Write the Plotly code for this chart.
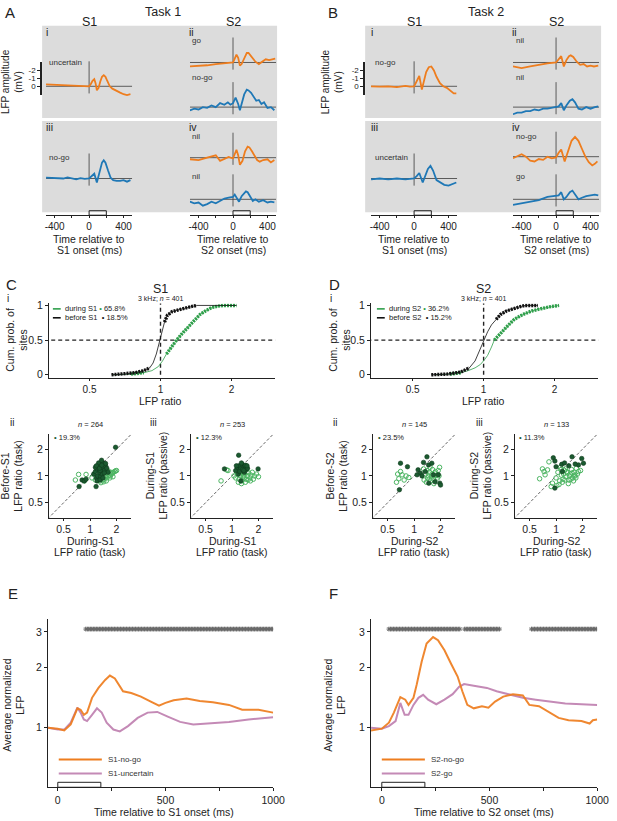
import numpy as np
import plotly.graph_objects as go

W, H = 617, 821
FONT = 'Liberation Sans, Arial, sans-serif'
ORANGE = '#ee7d1e'
BLUE = '#1f78b6'
MAUVE = '#c48ab6'
GREEN = '#2f9f4b'
DARK_GREEN = '#1b5a30'
LIGHT_GREEN = '#4cb562'
INK = '#222222'
GRAY_BG = '#dcdcdc'
MV_PX = 8.0  # pixels per mV in panels A/B

# ---------------- A / B: example LFPs (mV, negative up) ----------------
a1_t = [-500, -400, -300, -200, -100, 0, 20, 40, 60, 75, 90, 110, 130, 150, 170, 190, 210, 240, 270, 300, 330, 360, 400, 440, 480]
a1_mv = [-0.25, -0.2, -0.15, -0.1, -0.05, 0.0, -0.3, -0.7, -0.9, -0.4, 0.5, 0.2, -0.6, -1.2, -1.4, -1.2, -0.7, 0.0, 0.3, 0.5, 0.7, 0.8, 1.0, 1.1, 1.0]

a2go_t = [-500, -400, -300, -200, -100, -50, 0, 20, 40, 60, 80, 100, 130, 160, 180, 200, 230, 260, 300, 340, 380, 420, 460, 490]
a2go_mv = [0.5, 0.45, 0.35, 0.2, 0.1, 0.05, 0.0, -0.5, -1.0, -0.6, 0.4, 0.2, -0.6, -1.2, -1.2, -0.9, -0.4, -0.1, 0.2, -0.1, -0.4, -0.3, -0.4, -0.5]

a2nogo_t = [-500, -450, -400, -350, -300, -250, -200, -150, -100, -60, -30, 0, 30, 60, 80, 100, 130, 160, 180, 210, 240, 270, 300, 330, 360, 400, 440, 480]
a2nogo_mv = [0.4, 0.2, 0.3, 0.0, 0.1, -0.2, 0.0, -0.5, -0.3, -0.6, -0.3, -0.5, -1.2, -0.4, 0.4, -0.3, -1.6, -2.2, -2.1, -1.8, -1.2, -0.8, -0.9, -0.4, -0.6, 0.1, 0.0, 0.4]

a3_t = [-500, -400, -300, -250, -200, -150, -100, -50, 0, 30, 60, 90, 120, 150, 170, 190, 220, 250, 280, 320, 360, 400, 440, 480]
a3_mv = [-0.1, -0.05, 0.0, -0.15, 0.0, 0.1, -0.05, 0.05, 0.0, -0.3, -0.6, 0.5, -0.8, -2.0, -2.3, -2.0, -1.0, -0.1, 0.2, 0.3, 0.3, 0.2, 0.4, 0.2]

a4top_t = [-500, -400, -300, -250, -200, -150, -100, -50, 0, 20, 40, 60, 80, 110, 140, 170, 190, 220, 250, 280, 310, 350, 400, 440, 480]
a4top_mv = [0.2, 0.3, 0.0, -0.2, -0.3, 0.4, 0.2, -0.1, 0.1, -0.5, -1.0, -0.3, 0.9, 0.4, -0.8, -1.4, -1.3, -0.8, -0.2, 0.3, 0.5, 0.3, 0.2, 0.6, 0.3]

a4bot_t = [-500, -450, -400, -350, -300, -250, -200, -150, -100, -50, 0, 20, 40, 70, 100, 130, 150, 170, 200, 230, 260, 300, 350, 400, 440, 480]
a4bot_mv = [0.3, 0.5, 0.4, 0.8, 0.6, 0.3, 0.5, 0.2, -0.1, -0.2, -0.3, -0.6, -0.3, 0.3, -0.4, -0.8, -1.0, -0.9, -0.3, 0.2, 0.0, 0.3, 0.1, 0.4, 0.3, 0.4]

b1_t = [-500, -400, -300, -200, -100, -50, 0, 30, 60, 90, 110, 140, 170, 200, 230, 260, 300, 340, 380, 420, 460, 490]
b1_mv = [0.0, 0.05, 0.0, 0.1, -0.05, 0.05, 0.0, -0.6, -1.3, 0.4, -0.5, -1.8, -2.4, -2.5, -2.0, -1.2, -0.4, 0.0, 0.2, 0.6, 0.9, 0.9]

b2top_t = [-500, -450, -400, -300, -200, -100, 0, 30, 60, 90, 120, 150, 170, 200, 240, 280, 320, 360, 400, 440, 490]
b2top_mv = [0.5, 0.6, 0.7, 0.5, 0.3, 0.1, 0.0, -0.4, -0.8, 0.5, -0.3, -0.8, -0.9, -0.7, -0.1, 0.3, 0.2, 0.5, 0.4, 0.5, 0.4]

b2bot_t = [-500, -450, -400, -350, -300, -250, -200, -150, -100, -50, 0, 30, 60, 90, 120, 160, 190, 220, 260, 300, 350, 400, 450, 490]
b2bot_mv = [0.9, 0.7, 0.7, 0.5, 0.5, 0.3, 0.4, 0.2, 0.2, 0.1, 0.0, -0.1, -0.5, 0.4, -0.2, -0.8, -1.0, -0.6, 0.2, 0.3, 0.0, 0.2, 0.0, -0.1]

b3_t = [-500, -400, -300, -200, -100, 0, 30, 60, 100, 130, 160, 190, 220, 260, 300, 350, 400, 450, 490]
b3_mv = [0.1, 0.0, 0.1, 0.0, 0.1, 0.0, -0.3, -0.7, 0.5, -0.3, -1.2, -1.6, -1.0, 0.2, 0.5, 0.8, 0.9, 0.7, 0.5]

b4top_t = [-500, -450, -400, -350, -300, -250, -200, -150, -100, -50, 0, 30, 60, 100, 140, 180, 220, 260, 300, 340, 380, 420, 450, 480]
b4top_mv = [0.2, -0.1, -0.3, 0.0, 0.5, 0.6, 0.3, 0.4, 0.0, 0.2, 0.1, -0.5, -0.9, 0.6, -0.8, -2.0, -2.5, -2.0, -1.0, 0.0, 0.7, 1.1, 0.9, 0.6]

b4bot_t = [-500, -400, -300, -200, -100, 0, 30, 60, 90, 120, 160, 190, 220, 260, 300, 350, 400, 450, 490]
b4bot_mv = [0.7, 0.5, 0.3, 0.1, -0.3, -0.4, -0.5, -0.9, 0.0, -0.3, -0.9, -1.1, -0.6, 0.0, -0.2, -0.4, -0.5, -0.6, -0.5]

# ---------------- C / D: cumulative distributions ----------------
c_before_x = [0.62, 0.70, 0.78, 0.85, 0.90, 0.93, 0.96, 0.98, 1.00, 1.02, 1.04, 1.07, 1.12, 1.20, 1.30, 1.42, 2.10]
c_before_p = [0.00, 0.01, 0.03, 0.06, 0.10, 0.17, 0.30, 0.42, 0.50, 0.65, 0.76, 0.86, 0.91, 0.94, 0.97, 1.00, 1.00]
c_before_sig = [(0, 5), (10, 16)]
c_during_x = [0.63, 0.75, 0.85, 0.92, 0.98, 1.02, 1.06, 1.11, 1.17, 1.24, 1.32, 1.40, 1.47, 1.55, 1.65, 1.75, 1.85, 2.10]
c_during_p = [0.00, 0.01, 0.03, 0.06, 0.12, 0.20, 0.30, 0.40, 0.50, 0.60, 0.70, 0.80, 0.87, 0.92, 0.97, 0.99, 1.00, 1.00]
c_during_sig = [(1, 3), (6, 18)]

d_before_x = [0.60, 0.70, 0.80, 0.87, 0.92, 0.96, 1.00, 1.04, 1.08, 1.13, 1.18, 1.25, 1.32, 1.42, 1.50, 1.70]
d_before_p = [0.00, 0.01, 0.04, 0.10, 0.20, 0.35, 0.50, 0.62, 0.72, 0.80, 0.87, 0.92, 0.95, 0.98, 1.00, 1.00]
d_before_sig = [(0, 4), (9, 16)]
d_during_x = [0.62, 0.72, 0.80, 0.86, 0.92, 0.97, 1.01, 1.04, 1.08, 1.11, 1.18, 1.26, 1.35, 1.47, 1.60, 1.72, 1.90, 2.09]
d_during_p = [0.00, 0.01, 0.03, 0.06, 0.10, 0.15, 0.22, 0.28, 0.40, 0.50, 0.60, 0.70, 0.80, 0.87, 0.92, 0.95, 0.98, 1.00]
d_during_sig = [(1, 3), (9, 18)]

# ---------------- C / D: per-site scatter ----------------
cii_sig_x = [0.75, 0.81, 0.86, 0.90, 1.10, 1.15, 1.18, 1.20, 1.22, 1.25, 1.28, 1.30, 1.32, 1.35, 1.38, 1.40, 1.42, 1.45, 1.50, 1.55, 1.60, 1.20, 1.30, 1.25, 1.35, 1.40, 1.15, 1.45, 1.30, 1.50, 1.18, 1.17, 1.28, 1.36, 1.95]
cii_sig_y = [0.76, 0.90, 0.88, 0.92, 1.05, 1.12, 0.95, 1.20, 1.00, 1.28, 1.10, 1.35, 0.98, 1.18, 1.05, 1.25, 1.40, 1.15, 1.30, 1.22, 1.10, 0.88, 0.90, 1.40, 1.50, 0.95, 1.25, 1.08, 1.15, 1.38, 1.30, 0.76, 1.22, 1.32, 2.10]
cii_ns_x = [0.68, 0.74, 0.86, 0.90, 1.05, 1.15, 1.20, 1.25, 1.30, 1.35, 1.40, 1.45, 1.50, 1.55, 1.60, 1.65, 1.70, 1.75, 1.80, 1.85, 1.90, 1.95, 2.00, 1.28, 1.38, 1.48, 1.58, 1.68, 1.33, 1.43, 1.53, 1.63, 1.22, 1.72, 1.82]
cii_ns_y = [0.90, 1.04, 0.88, 1.04, 0.95, 0.90, 0.97, 0.92, 0.88, 0.95, 0.90, 0.92, 0.97, 0.95, 1.00, 1.02, 1.00, 1.05, 1.08, 1.10, 1.12, 1.14, 1.15, 1.02, 1.05, 1.00, 1.08, 0.95, 0.84, 0.86, 0.88, 1.12, 1.08, 1.10, 0.98]

ciii_sig_x = [0.82, 1.19, 1.98, 1.10, 1.15, 1.20, 1.25, 1.30, 1.35, 1.40, 1.45, 1.50, 1.18, 1.28, 1.38, 1.22, 1.32, 1.42, 1.12, 1.48, 1.26, 1.36]
ciii_sig_y = [1.20, 1.71, 1.20, 1.15, 1.25, 1.30, 1.20, 1.35, 1.25, 1.28, 1.18, 1.22, 1.05, 1.40, 1.10, 1.12, 1.18, 1.32, 1.30, 1.30, 0.88, 1.15]
ciii_ns_x = [0.75, 0.87, 0.90, 1.05, 1.10, 1.15, 1.20, 1.25, 1.30, 1.35, 1.40, 1.45, 1.50, 1.55, 1.60, 1.65, 1.70, 1.80, 1.90, 2.00, 1.12, 1.22, 1.32, 1.42, 1.52, 1.62, 1.18, 1.28, 1.38, 1.48, 1.75, 1.25, 1.35]
ciii_ns_y = [0.88, 1.17, 1.15, 1.00, 0.95, 1.05, 0.92, 1.00, 0.88, 0.98, 1.05, 0.92, 1.00, 1.08, 0.95, 1.02, 1.10, 1.00, 1.05, 0.98, 1.12, 1.10, 1.12, 0.85, 0.90, 0.88, 0.85, 0.82, 0.95, 1.10, 0.92, 1.06, 1.02]

dii_sig_x = [0.70, 0.84, 0.68, 1.11, 1.18, 1.28, 1.40, 1.46, 1.59, 1.66, 1.73, 1.47, 1.89, 1.96, 2.00, 1.08, 1.34, 1.23]
dii_sig_y = [1.39, 1.27, 0.70, 1.17, 1.07, 1.42, 1.64, 1.33, 1.39, 1.03, 0.86, 0.83, 1.03, 0.83, 0.79, 1.03, 1.12, 1.00]
dii_ns_x = [0.63, 0.67, 0.73, 0.77, 0.70, 0.81, 0.87, 0.65, 1.28, 1.35, 1.42, 1.50, 1.58, 1.65, 1.72, 1.80, 1.88, 1.95, 1.30, 1.40, 1.55, 1.62, 1.70, 1.85, 1.45, 1.52, 1.75, 1.38, 1.60, 1.68, 1.92, 1.48]
dii_ns_y = [0.85, 0.93, 1.03, 0.90, 1.12, 1.00, 0.96, 1.05, 1.20, 1.05, 0.95, 1.10, 1.00, 0.92, 1.08, 1.02, 1.15, 1.25, 0.90, 1.15, 0.88, 1.18, 0.98, 0.95, 1.00, 1.25, 1.12, 0.85, 1.05, 0.82, 1.00, 0.92]

diii_sig_x = [0.93, 0.97, 1.52, 1.16, 1.96, 1.80, 2.05, 1.00, 1.18, 0.97, 1.25, 1.40, 1.65]
diii_sig_y = [1.60, 1.47, 1.64, 1.35, 1.57, 1.33, 1.39, 1.27, 1.12, 0.73, 1.40, 1.30, 1.36]
diii_ns_x = [0.65, 0.73, 0.75, 0.83, 0.80, 0.70, 0.91, 0.88, 1.00, 1.05, 1.10, 1.15, 1.20, 1.25, 1.30, 1.35, 1.40, 1.45, 1.50, 1.55, 1.60, 1.65, 1.70, 1.75, 1.80, 1.90, 1.08, 1.18, 1.28, 1.38, 1.48, 1.58, 1.68, 1.12, 1.22, 1.32, 1.42, 1.52, 1.62, 1.02, 1.14, 1.26]
diii_ns_y = [0.93, 1.12, 1.03, 1.44, 1.17, 1.20, 0.83, 0.76, 0.95, 1.10, 0.88, 1.02, 0.92, 1.15, 0.98, 1.08, 0.90, 1.05, 1.18, 0.95, 1.10, 1.00, 1.22, 1.05, 1.12, 1.15, 0.80, 0.85, 1.20, 0.82, 0.92, 0.88, 0.95, 1.25, 1.05, 1.12, 1.00, 1.08, 1.02, 0.78, 1.18, 0.90]

# ---------------- E / F: population averages ----------------
e_t_nogo = [-45, 0, 30, 60, 91, 106, 121, 136, 159, 189, 220, 242, 265, 303, 341, 386, 432, 470, 500, 538, 598, 659, 720, 795, 856, 932, 1000]
e_nogo = [1.00, 0.99, 0.97, 1.04, 1.25, 1.23, 1.16, 1.19, 1.41, 1.58, 1.73, 1.82, 1.76, 1.52, 1.49, 1.43, 1.35, 1.29, 1.33, 1.37, 1.40, 1.36, 1.34, 1.30, 1.23, 1.23, 1.19]
e_t_unc = [-45, 0, 30, 60, 91, 106, 121, 136, 159, 182, 204, 227, 258, 288, 326, 371, 417, 462, 508, 568, 629, 705, 795, 886, 1000]
e_unc = [1.00, 0.98, 0.98, 1.06, 1.26, 1.19, 1.10, 1.08, 1.16, 1.25, 1.19, 1.06, 0.98, 0.96, 1.02, 1.12, 1.19, 1.20, 1.14, 1.07, 1.04, 1.05, 1.07, 1.10, 1.13]
e_sig_windows = [(130, 1000)]

f_t_nogo = [-50, 0, 33, 56, 86, 109, 124, 147, 162, 185, 208, 238, 261, 291, 321, 352, 374, 397, 427, 465, 495, 526, 564, 609, 655, 685, 730, 776, 821, 867, 927, 965, 980, 1000]
f_nogo = [0.97, 0.99, 1.06, 1.19, 1.42, 1.38, 1.30, 1.41, 1.64, 2.13, 2.63, 2.83, 2.73, 2.43, 2.09, 1.80, 1.52, 1.30, 1.25, 1.28, 1.26, 1.35, 1.43, 1.47, 1.45, 1.30, 1.28, 1.20, 1.12, 1.09, 1.08, 1.05, 1.09, 1.10]
f_t_go = [-50, 0, 33, 64, 86, 106, 124, 147, 170, 192, 215, 253, 291, 329, 359, 382, 427, 488, 533, 594, 655, 715, 776, 852, 927, 1000]
f_go = [1.00, 0.99, 1.02, 1.08, 1.33, 1.16, 1.16, 1.30, 1.41, 1.46, 1.38, 1.31, 1.38, 1.47, 1.60, 1.65, 1.62, 1.58, 1.52, 1.46, 1.41, 1.38, 1.35, 1.32, 1.31, 1.30]
f_sig_windows = [(33, 367), (385, 552), (695, 1000)]
STAR_BIN = 7  # ms between significance markers


def fx(x):
    return x / W


def fy(y):
    return 1 - y / H


layout = dict(width=W, height=H, autosize=False, margin=dict(l=0, r=0, t=0, b=0),
              paper_bgcolor='white', plot_bgcolor='rgba(0,0,0,0)', showlegend=False,
              font=dict(family=FONT, size=10, color=INK))
shapes = []
annotations = []
traces = []
counter = [0]

SHOWN = dict(visible=True, showline=True, linecolor=INK, linewidth=1, ticks='outside',
             ticklen=3, tickwidth=1, tickcolor=INK, showticklabels=True,
             tickfont=dict(size=10.5, color=INK))


def new_axes(xdom, ydom, xrange, yrange, xtype='linear', ytype='linear', xstyle=None, ystyle=None):
    counter[0] += 1
    n = counter[0]
    sid = '' if n == 1 else str(n)
    xa = dict(domain=[fx(xdom[0]), fx(xdom[1])], range=xrange, type=xtype, anchor='y' + sid,
              showgrid=False, zeroline=False, visible=False, fixedrange=True)
    ya = dict(domain=[fy(ydom[1]), fy(ydom[0])], range=yrange, type=ytype, anchor='x' + sid,
              showgrid=False, zeroline=False, visible=False, fixedrange=True)
    if xstyle:
        xa.update(SHOWN)
        xa.update(xstyle)
    if ystyle:
        ya.update(SHOWN)
        ya.update(ystyle)
    layout['xaxis' + sid] = xa
    layout['yaxis' + sid] = ya
    traces.append(go.Scatter(x=[None], y=[None], xaxis='x' + sid, yaxis='y' + sid, hoverinfo='skip'))
    return 'x' + sid, 'y' + sid


def text(x, y, s, size=10.5, xanchor='center', angle=0, color=INK):
    annotations.append(dict(x=fx(x), y=fy(y), xref='paper', yref='paper', text=s, showarrow=False,
                            font=dict(size=size, color=color), xanchor=xanchor, yanchor='middle',
                            textangle=angle))


def key(x0, x1, y, color, width):
    shapes.append(dict(type='line', xref='paper', yref='paper', x0=fx(x0), x1=fx(x1),
                       y0=fy(y), y1=fy(y), line=dict(color=color, width=width)))


# ---------------- panels A and B ----------------
ROW1, ROW2 = (22, 115), (118, 210)
for x0, x1 in [(42, 282), (372, 613)]:
    for r in (ROW1, ROW2):
        shapes.append(dict(type='rect', xref='paper', yref='paper', x0=fx(x0), x1=fx(x1),
                           y0=fy(r[1]), y1=fy(r[0]), fillcolor=GRAY_BG, line=dict(width=0), layer='below'))

A_S1, A_S2, B_S1, B_S2 = (46, 134), (193, 281), (378, 466), (523, 611)

lfp_panels = [
    (a1_t, a1_mv, ORANGE, A_S1, ROW1, 83),
    (a2go_t, a2go_mv, ORANGE, A_S2, (22, 76), 59),
    (a2nogo_t, a2nogo_mv, BLUE, A_S2, (76, 115), 104),
    (a3_t, a3_mv, BLUE, A_S1, ROW2, 176),
    (a4top_t, a4top_mv, ORANGE, A_S2, (118, 166), 155),
    (a4bot_t, a4bot_mv, BLUE, A_S2, (166, 210), 197),
    (b1_t, b1_mv, ORANGE, B_S1, ROW1, 83),
    (b2top_t, b2top_mv, ORANGE, B_S2, (22, 76), 59),
    (b2bot_t, b2bot_mv, BLUE, B_S2, (76, 115), 104),
    (b3_t, b3_mv, BLUE, B_S1, ROW2, 176),
    (b4top_t, b4top_mv, ORANGE, B_S2, (118, 166), 154),
    (b4bot_t, b4bot_mv, BLUE, B_S2, (166, 210), 197),
]
for t, mv, color, xdom, ydom, base in lfp_panels:
    yr = [(ydom[1] - base) / MV_PX, (ydom[0] - base) / MV_PX]
    xa, ya = new_axes(xdom, ydom, [-500, 500], yr)
    shapes.append(dict(type='line', xref=xa, yref=ya, x0=-500, x1=500, y0=0, y1=0,
                       line=dict(color='#3a3a3a', width=0.8), layer='below'))
    shapes.append(dict(type='line', xref=xa, yref=ya, x0=0, x1=0, y0=-3.15, y1=0.9,
                       line=dict(color='#3a3a3a', width=0.8), layer='below'))
    traces.append(go.Scatter(x=t, y=mv, xaxis=xa, yaxis=ya, mode='lines',
                             line=dict(color=color, width=1.8), hoverinfo='skip'))

# time axes under the columns
for xdom in (A_S1, A_S2, B_S1, B_S2):
    xa, ya = new_axes(xdom, (200, 213), [-500, 500], [0, 1],
                      xstyle=dict(tickvals=[-400, -200, 0, 200, 400], ticklen=2,
                                  ticktext=['-400', '', '0', '', '400'], tickfont=dict(size=10, color=INK)))
    shapes.append(dict(type='rect', xref=xa, yref='paper', x0=0, x1=200, y0=fy(213), y1=fy(208.5),
                       line=dict(color=INK, width=1), fillcolor='rgba(0,0,0,0)'))

# mV scale bars
for xb in (41.5, 371.5):
    new_axes((xb, xb + 3), (58, 92), [0, 1], [(92 - 83) / MV_PX, (58 - 83) / MV_PX],
             ystyle=dict(tickvals=[-2, -1, 0], ticktext=['-2', '-1', '0'], linewidth=1.3,
                         tickfont=dict(size=8, color=INK)))

for dx, task, labels in [(0, 'Task 1', ['uncertain', 'go', 'no-go', 'no-go', 'nil', 'nil']),
                         (330, 'Task 2', ['no-go', 'nil', 'nil', 'uncertain', 'no-go', 'go'])]:
    sh = 2 if dx else 0
    text(2 + dx, 9, 'AB'[dx > 0], size=15, xanchor='left')
    text(165 + dx, 8, task, size=12.5)
    text(90 + dx + sh, 18, 'S1', size=12.5)
    text(237 + dx, 18, 'S2', size=12.5)
    text(44 + dx + sh, 28, 'i', xanchor='left')
    text(190 + dx, 28, 'ii', xanchor='left')
    text(44 + dx + sh, 124, 'iii', xanchor='left')
    text(190 + dx, 124, 'iv', xanchor='left')
    lx1 = 47 + dx + (3 if dx else 0)
    lx2 = 193 + dx + (1 if dx else 0)
    for (lx, ly), lab in zip([(lx1, 59), (lx2, 37), (lx2, 74), (lx1, 155), (lx2, 134), (lx2, 174)], labels):
        text(lx, ly, lab, size=8, xanchor='left', color='#333')
    text(12 + dx - (4 if dx else 0), 78, 'LFP amplitude<br>(mV)', size=10, angle=-90)
    for cx, s in [(90 + dx + sh, 'S1'), (237 + dx, 'S2')]:
        text(cx, 237, 'Time relative to')
        text(cx, 248, '%s onset (ms)' % s)

# ---------------- panels C and D ----------------
LOG_TICKS = dict(tickvals=[0.5, 1, 2], ticktext=['0.5', '1', '2'])


def cdf_panel(xdom, xr, bx, bp, bsig, dxs, dps, dsig):
    xa, ya = new_axes(xdom, (302, 377), xr, [-0.043, 1.029], xtype='log',
                      xstyle=dict(LOG_TICKS, ticklen=2, tickfont=dict(size=10, color=INK)),
                      ystyle=dict(tickvals=[0, 0.5, 1], ticktext=['0', '0.5', '1']))
    dash = dict(color=INK, width=1.4, dash='4px,3px')
    traces.append(go.Scatter(x=[0.3, 3.2], y=[0.5, 0.5], xaxis=xa, yaxis=ya, mode='lines', line=dash, hoverinfo='skip'))
    traces.append(go.Scatter(x=[1, 1], y=[0, 1.06], xaxis=xa, yaxis=ya, mode='lines', line=dash, hoverinfo='skip'))
    for xs, ps, sig, col in [(dxs, dps, dsig, GREEN), (bx, bp, bsig, '#111111')]:
        traces.append(go.Scatter(x=xs, y=ps, xaxis=xa, yaxis=ya, mode='lines',
                                 line=dict(color=col, width=0.8), hoverinfo='skip'))
        for i0, i1 in sig:
            traces.append(go.Scatter(x=xs[i0:i1], y=ps[i0:i1], xaxis=xa, yaxis=ya, mode='lines',
                                     line=dict(color=col, width=3.4, dash='2px,1px'), hoverinfo='skip'))


def scatter_panel(xdom, sx, sy, nx, ny):
    r = [-0.468, 0.468]
    xa, ya = new_axes(xdom, (434, 518), r, r, xtype='log', ytype='log',
                      xstyle=dict(LOG_TICKS, ticklen=2), ystyle=LOG_TICKS)
    traces.append(go.Scatter(x=[0.3, 3.0], y=[0.3, 3.0], xaxis=xa, yaxis=ya, mode='lines',
                             line=dict(color='#555', width=0.9, dash='3px,2px'), hoverinfo='skip'))
    traces.append(go.Scatter(x=nx, y=ny, xaxis=xa, yaxis=ya, mode='markers', hoverinfo='skip',
                             marker=dict(symbol='circle-open', size=4.5, color=LIGHT_GREEN,
                                         line=dict(width=1, color=LIGHT_GREEN))))
    traces.append(go.Scatter(x=sx, y=sy, xaxis=xa, yaxis=ya, mode='markers', hoverinfo='skip',
                             marker=dict(symbol='circle', size=4.5, color=DARK_GREEN,
                                         line=dict(width=0.6, color='#0f3a1d'))))


cdf_panel((49, 280), [-0.473, 0.486], c_before_x, c_before_p, c_before_sig,
          c_during_x, c_during_p, c_during_sig)
cdf_panel((378, 610), [-0.4776, 0.4859], d_before_x, d_before_p, d_before_sig,
          d_during_x, d_during_p, d_during_sig)
scatter_panel((49, 133), cii_sig_x, cii_sig_y, cii_ns_x, cii_ns_y)
scatter_panel((194, 278), ciii_sig_x, ciii_sig_y, ciii_ns_x, ciii_ns_y)
scatter_panel((380, 464), dii_sig_x, dii_sig_y, dii_ns_x, dii_ns_y)
scatter_panel((525, 609), diii_sig_x, diii_sig_y, diii_ns_x, diii_ns_y)


def dot(c):
    return "<span style='color:%s'>\u2022</span>" % c


for dx, s, pct_d, pct_b, n2, n3, p2, p3, c1, c2 in [
        (0, 'S1', '65.8%', '18.5%', '264', '253', '19.3%', '12.3%', 163, 91),
        (330, 'S2', '36.2%', '15.2%', '145', '133', '23.5%', '11.3%', 493, 422)]:
    sh = 1 if dx else 0
    text(3 + dx, 283, 'CD'[dx > 0], size=15, xanchor='left')
    text(7 + dx, 297, 'i', size=10)
    text(c1, 287, s, size=12.5)
    text(c1, 297, '3 kHz; <i>n</i> = 401', size=7)
    lx = 53 + dx + sh
    key(lx, lx + 8, 307.5, GREEN, 1.6)
    key(lx, lx + 8, 316.5, '#111', 1.6)
    text(lx + 10, 307.5, 'during %s ' % s + dot(GREEN) + ' ' + pct_d, size=7.5, xanchor='left')
    text(lx + 10, 316.5, 'before %s  ' % s + dot('#111') + ' ' + pct_b, size=7.5, xanchor='left')
    text(16 + dx, 339, 'Cum. prob. of<br>sites', angle=-90)
    text(c1, 400, 'LFP ratio')
    # scatter panels
    cii = c2
    ciii = c2 + 145
    text(7 + dx, 422, 'ii', size=10, xanchor='left')
    text(cii, 424, '<i>n</i> = ' + n2, size=7.5)
    text(52 + dx + sh, 437, dot(DARK_GREEN) + ' ' + p2, size=7.5, xanchor='left')
    text(11 + dx + 2 * sh, 476, 'Before-%s<br>LFP ratio (task)' % s, angle=-90)
    text(cii, 542, 'During-%s' % s)
    text(cii, 553, 'LFP ratio (task)')
    text(150 + dx + 3 * sh, 422, 'iii', size=10, xanchor='left')
    text(ciii, 424, '<i>n</i> = ' + n3, size=7.5)
    text(197 + dx, 437, dot(DARK_GREEN) + ' ' + p3, size=7.5, xanchor='left')
    text(159 + dx + sh, 476, 'During-%s<br>LFP ratio (passive)' % s, angle=-90)
    text(ciii, 542, 'During-%s' % s)
    text(ciii, 553, 'LFP ratio (task)')

# ---------------- panels E and F ----------------
for xdom, xr, t1, y1, t2, y2, windows, names, dx in [
        ((48, 278), [-45.5, 1000], e_t_nogo, e_nogo, e_t_unc, e_unc, e_sig_windows,
         ['S1-no-go', 'S1-uncertain'], 0),
        ((378, 609), [-50, 1000], f_t_nogo, f_nogo, f_t_go, f_go, f_sig_windows,
         ['S2-no-go', 'S2-go'], 330)]:
    xa, ya = new_axes(xdom, (620, 790), xr, [-0.296, 0.543], ytype='log',
                      xstyle=dict(tickvals=[0, 250, 500, 750, 1000], ticktext=['0', '', '500', '', '1000']),
                      ystyle=dict(tickvals=[1, 2, 3], ticktext=['1', '2', '3']))
    traces.append(go.Scatter(x=t2, y=y2, xaxis=xa, yaxis=ya, mode='lines',
                             line=dict(color=MAUVE, width=2), hoverinfo='skip'))
    traces.append(go.Scatter(x=t1, y=y1, xaxis=xa, yaxis=ya, mode='lines',
                             line=dict(color=ORANGE, width=2), opacity=0.92, hoverinfo='skip'))
    st = np.concatenate([np.arange(a, b + 1, STAR_BIN) for a, b in windows])
    traces.append(go.Scatter(x=st, y=[3.1] * len(st), xaxis=xa, yaxis=ya, mode='markers', hoverinfo='skip',
                             marker=dict(symbol='asterisk-open', size=4, color='#6a6a6a',
                                         line=dict(width=1, color='#6a6a6a'))))
    shapes.append(dict(type='rect', xref=xa, yref='paper', x0=0, x1=200, y0=fy(790), y1=fy(785),
                       line=dict(color=INK, width=1), fillcolor='rgba(0,0,0,0)'))
    z0 = xdom[0] + 11
    for ly, col, nm in [(762, ORANGE, names[0]), (776, MAUVE, names[1])]:
        key(z0, z0 + 44, ly, col, 2)
        text(z0 + 48, ly, nm, size=8, xanchor='left', color='#333')
    text(5 + dx - (2 if dx else 0), 595, 'EF'[dx > 0], size=15, xanchor='left')
    text(13 + dx - (2 if dx else 0), 707, 'Average normalized<br>LFP', angle=-90)
    text((xdom[0] + xdom[1]) / 2 + (4 if dx == 0 else 0), 815,
         'Time relative to %s onset (ms)' % ('S1' if dx == 0 else 'S2'))

layout['shapes'] = shapes
layout['annotations'] = annotations

fig = go.Figure(data=traces)
fig.update_layout(**layout)
fig.write_html("out.html", config={'displayModeBar': False, 'staticPlot': True},
               post_script="document.body.style.margin='0';document.body.style.overflow='hidden';")
